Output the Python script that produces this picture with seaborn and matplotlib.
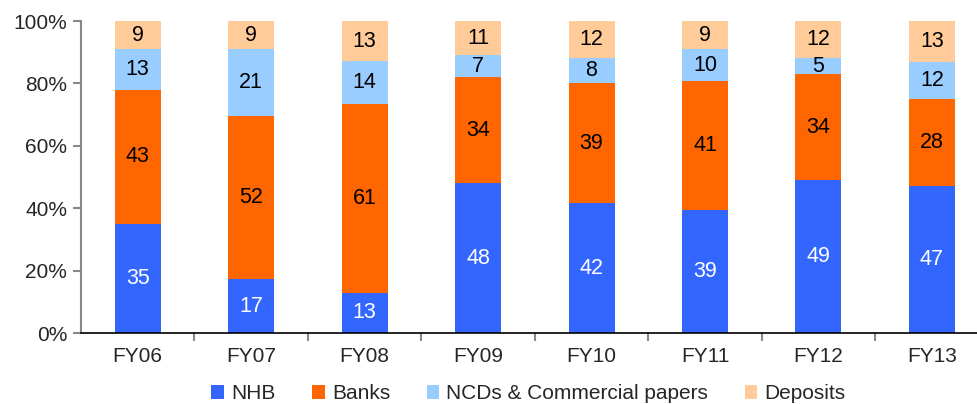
import matplotlib
matplotlib.use("Agg")
import matplotlib.pyplot as plt
import seaborn as sns
import numpy as np
from matplotlib.patches import Patch
from matplotlib.ticker import FixedLocator

years = ["FY06", "FY07", "FY08", "FY09", "FY10", "FY11", "FY12", "FY13"]
nhb = [35, 17, 13, 48, 42, 39, 49, 47]
banks = [43, 52, 61, 34, 39, 41, 34, 28]
ncds = [13, 21, 14, 7, 8, 10, 5, 12]
deposits = [9, 9, 13, 11, 12, 9, 12, 13]

series_names = ["NHB", "Banks", "NCDs & Commercial papers", "Deposits"]
series_values = [nhb, banks, ncds, deposits]
colors = ["#3366FF", "#FF6600", "#99CCFF", "#FFCC99"]
label_colors = ["white", "black", "black", "black"]

FS = 15
FS_LABEL = 15.5

sns.set_style("white")
plt.rcParams["font.family"] = ["Liberation Sans", "DejaVu Sans"]

fig = plt.figure(figsize=(9.77, 4.04), dpi=100)
ax = fig.add_axes([0.0829, 0.1757, 0.929, 0.7723])

# each year is shown as a 100% stack of funding shares
totals = np.sum(np.array(series_values, dtype=float), axis=0)

bottom = np.zeros(len(years))
for name, vals, col, lcol in zip(series_names, series_values, colors, label_colors):
    vals = np.array(vals, dtype=float)
    share = vals / totals * 100
    sns.barplot(x=years, y=share, bottom=bottom, color=col, width=0.405,
                errorbar=None, ax=ax, linewidth=0, saturation=1)
    for i, v in enumerate(vals):
        ax.text(i, bottom[i] + share[i] / 2, f"{int(v)}", ha="center", va="center",
                fontsize=FS_LABEL, color=lcol)
    bottom = bottom + share

ax.set_xlim(-0.5, len(years) - 0.5)
ax.set_ylim(0, 100)
ax.set_yticks(np.arange(0, 101, 20))
ax.set_yticklabels([f"{t}%" for t in range(0, 101, 20)], fontsize=FS)
ax.set_xticks(range(len(years)))
ax.set_xticklabels(years, fontsize=FS)
ax.xaxis.set_minor_locator(FixedLocator(np.arange(0.5, len(years) - 0.5, 1)))
ax.tick_params(axis="x", which="major", length=0, pad=10)
ax.tick_params(axis="x", which="minor", length=6, width=1.5, color="#888888",
               direction="out", bottom=True)
ax.tick_params(axis="y", length=6, width=1.5, color="#888888", direction="out",
               left=True, pad=4)
ax.set_xlabel("")
ax.set_ylabel("")

for s in ["top", "right"]:
    ax.spines[s].set_visible(False)
ax.spines["left"].set_color("#888888")
ax.spines["left"].set_linewidth(1.5)
ax.spines["bottom"].set_color("black")
ax.spines["bottom"].set_linewidth(1.2)

handles = [Patch(facecolor=c, edgecolor="none", label=n) for c, n in zip(colors, series_names)]
fig.legend(handles=handles, loc="center", bbox_to_anchor=(0.541, 0.025), ncol=4,
           frameon=False, fontsize=FS, handlelength=0.6, handleheight=0.6,
           handletextpad=0.35, columnspacing=1.75, borderaxespad=0)

fig.savefig("out.png", dpi=100)
